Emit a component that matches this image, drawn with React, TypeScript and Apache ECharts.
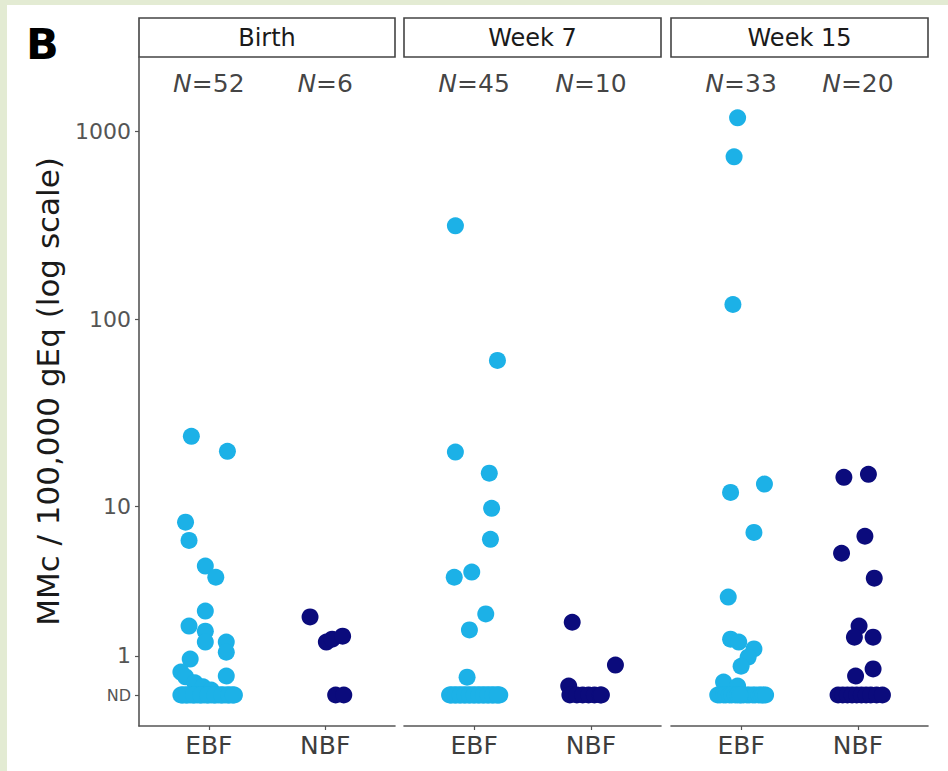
import React, { useEffect, useRef } from 'react';
import * as echarts from 'echarts';

const panelTitles = ['Birth', 'Week 7', 'Week 15'];
const groupLabels = ['EBF', 'NBF'];
const nEBF = [52, 45, 33];
const nNBF = [6, 10, 20];
const yTickValues = [0, 1, 10, 100, 1000];
const yTickLabels = ['ND', '1', '10', '100', '1000'];

// [horizontal jitter (category units), value]; value 0 = ND (not detected)
const birthEBF = [
  [-0.15, 23.8], [0.16, 19.8], [-0.2, 8.2], [-0.17, 6.5], [-0.03, 4.65], [0.06, 4.0],
  [-0.03, 2.44], [-0.17, 1.9], [-0.03, 1.73], [-0.03, 1.39], [0.15, 1.39], [0.15, 1.1],
  [-0.16, 0.91], [-0.24, 0.57], [0.15, 0.47], [-0.2, 0.45], [-0.12, 0.3], [-0.05, 0.2], [0.02, 0.12],
  [-0.24, 0], [-0.22, 0], [-0.2, 0], [-0.18, 0], [-0.16, 0], [-0.14, 0], [-0.12, 0], [-0.1, 0],
  [-0.08, 0], [-0.06, 0], [-0.04, 0], [-0.02, 0], [0, 0], [0.02, 0], [0.04, 0], [0.06, 0],
  [0.08, 0], [0.1, 0], [0.12, 0], [0.14, 0], [0.16, 0], [0.18, 0], [0.2, 0], [0.22, 0],
  [-0.23, 0], [-0.19, 0], [-0.13, 0], [-0.07, 0], [-0.01, 0], [0.05, 0], [0.11, 0], [0.17, 0], [0.21, 0],
];
const birthNBF = [
  [-0.13, 2.22], [0.01, 1.39], [0.06, 1.48], [0.15, 1.57], [0.09, 0], [0.16, 0],
];
const week7EBF = [
  [-0.16, 315], [0.2, 60.4], [-0.16, 19.6], [0.13, 15.1], [0.15, 9.76], [0.14, 6.6],
  [-0.17, 4.0], [-0.02, 4.29], [0.1, 2.33], [-0.04, 1.77], [-0.06, 0.44],
  [-0.21, 0], [-0.19, 0], [-0.17, 0], [-0.15, 0], [-0.13, 0], [-0.11, 0], [-0.09, 0], [-0.07, 0],
  [-0.05, 0], [-0.03, 0], [-0.01, 0], [0.01, 0], [0.03, 0], [0.05, 0], [0.07, 0], [0.09, 0],
  [0.11, 0], [0.13, 0], [0.15, 0], [0.17, 0], [0.19, 0], [0.21, 0], [0.22, 0],
  [-0.2, 0], [-0.16, 0], [-0.12, 0], [-0.08, 0], [-0.04, 0], [0, 0], [0.04, 0], [0.08, 0],
  [0.12, 0], [0.16, 0], [0.2, 0],
];
const week7NBF = [
  [-0.16, 2.03], [0.21, 0.75], [-0.19, 0.22],
  [-0.18, 0], [-0.12, 0], [-0.07, 0], [-0.02, 0], [0.03, 0], [0.08, 0], [0.09, 0],
];
const week15EBF = [
  [-0.03, 1183], [-0.06, 734], [-0.07, 120], [-0.09, 11.9], [0.2, 13.2], [0.11, 7.2],
  [-0.11, 3.02], [-0.09, 1.48], [-0.02, 1.39], [0.11, 1.19], [0.06, 0.96], [0.0, 0.72],
  [-0.15, 0.32], [-0.03, 0.22],
  [-0.2, 0], [-0.18, 0], [-0.15, 0], [-0.13, 0], [-0.1, 0], [-0.08, 0], [-0.05, 0], [-0.03, 0],
  [0, 0], [0.02, 0], [0.05, 0], [0.07, 0], [0.1, 0], [0.12, 0], [0.15, 0], [0.17, 0],
  [0.19, 0], [0.21, 0], [-0.01, 0],
];
const week15NBF = [
  [-0.12, 14.35], [0.09, 14.9], [0.06, 6.86], [-0.14, 5.51], [0.14, 3.95], [0.01, 1.9],
  [-0.03, 1.54], [0.13, 1.54], [0.13, 0.65], [-0.02, 0.47],
  [-0.17, 0], [-0.13, 0], [-0.09, 0], [-0.05, 0], [-0.01, 0], [0.03, 0], [0.07, 0],
  [0.11, 0], [0.16, 0], [0.21, 0],
];

const groupData = [
  [birthEBF, birthNBF],
  [week7EBF, week7NBF],
  [week15EBF, week15NBF],
];

const COLORS = ['#1cb1e7', '#0b0b7c'];
const FONT = 'DejaVu Sans';
const W = 948;
const H = 771;

// pseudo-log (asinh, sigma = 1) transform, base 10
const tr = (v: number) => Math.asinh(v / 2) / Math.LN10;

const Y_MIN = -0.165;
const Y_MAX = 3.397;
const N_LABEL_T = 3.255;

const PANEL_LEFT = [139, 404, 671];
const PANEL_WIDTH = [256, 257, 257];
const PLOT_TOP = 57;
const PLOT_BOTTOM = 726;
const STRIP_TOP = 18;

export default function App() {
  const ref = useRef<HTMLDivElement>(null);

  useEffect(() => {
    if (!ref.current) return;
    const chart = echarts.init(ref.current, null, { renderer: 'svg', width: W, height: H });

    const tickT = yTickValues.map(tr);

    const grids = PANEL_LEFT.map((l, i) => ({
      left: l,
      top: PLOT_TOP,
      width: PANEL_WIDTH[i],
      height: PLOT_BOTTOM - PLOT_TOP,
      containLabel: false,
    }));

    const xAxes = PANEL_LEFT.map((_, i) => ({
      gridIndex: i,
      type: 'value',
      min: 0.4,
      max: 2.6,
      axisLine: { show: true, onZero: false, lineStyle: { color: '#555555', width: 1.6 } },
      axisTick: { show: true, customValues: [1, 2], length: 4, lineStyle: { color: '#555555', width: 1.2 } },
      axisLabel: {
        show: true,
        customValues: [1, 2],
        formatter: (v: number) => groupLabels[Math.round(v) - 1] ?? '',
        color: '#3d3d3d',
        fontSize: 25,
        fontFamily: FONT,
        margin: 7,
      },
      splitLine: { show: false },
    }));

    const yAxes = PANEL_LEFT.map((_, i) => ({
      gridIndex: i,
      type: 'value',
      min: Y_MIN,
      max: Y_MAX,
      show: i === 0,
      axisLine: { show: i === 0, onZero: false, lineStyle: { color: '#555555', width: 1.6 } },
      axisTick: { show: i === 0, customValues: tickT, length: 4, lineStyle: { color: '#555555', width: 1.2 } },
      axisLabel: {
        show: i === 0,
        customValues: tickT,
        formatter: (val: number) => {
          const idx = tickT.findIndex((t) => Math.abs(t - val) < 1e-6);
          if (idx < 0) return '';
          return idx === 0 ? '{nd|' + yTickLabels[0] + '}' : yTickLabels[idx];
        },
        color: '#555555',
        fontSize: 22,
        fontFamily: FONT,
        margin: 8,
        rich: { nd: { fontSize: 16, fontFamily: FONT, color: '#555555' } },
      },
      splitLine: { show: false },
      name: i === 0 ? 'MMc / 100,000 gEq (log scale)' : '',
      nameLocation: 'middle',
      nameRotate: 90,
      nameGap: 76,
      nameTextStyle: { fontSize: 31, fontFamily: FONT, color: '#1a1a1a' },
    }));

    const series: any[] = [];
    groupData.forEach((groups, p) => {
      groups.forEach((arr, g) => {
        series.push({
          type: 'scatter',
          xAxisIndex: p,
          yAxisIndex: p,
          symbol: 'circle',
          symbolSize: 17,
          itemStyle: { color: COLORS[g], opacity: 1 },
          data: arr.map(([j, v]) => [g + 1 + j, tr(v)]),
          silent: true,
          z: 3,
        });
      });
      const counts = [nEBF[p], nNBF[p]];
      series.push({
        type: 'scatter',
        xAxisIndex: p,
        yAxisIndex: p,
        symbolSize: 0,
        silent: true,
        data: counts.map((n, g) => ({ value: [g + 1, N_LABEL_T], n })),
        label: {
          show: true,
          position: 'inside',
          formatter: (params: any) => '{i|N}{r|=' + params.data.n + '}',
          rich: {
            i: { fontStyle: 'italic', fontSize: 25, fontFamily: FONT, color: '#111111' },
            r: { fontSize: 25, fontFamily: FONT, color: '#111111' },
          },
        },
        z: 4,
      });
    });

    const graphics: any[] = [
      {
        type: 'text',
        left: 26,
        top: 22,
        style: { text: 'B', fontSize: 43, fontWeight: 'bold', fontFamily: FONT, fill: '#000000' },
      },
    ];
    PANEL_LEFT.forEach((l, i) => {
      graphics.push({
        type: 'rect',
        shape: { x: l, y: STRIP_TOP, width: PANEL_WIDTH[i], height: PLOT_TOP - STRIP_TOP },
        style: { fill: '#ffffff', stroke: '#444444', lineWidth: 1.6 },
      });
      graphics.push({
        type: 'text',
        x: l + PANEL_WIDTH[i] / 2,
        y: (STRIP_TOP + PLOT_TOP) / 2,
        style: {
          text: panelTitles[i],
          fontSize: 24,
          fontFamily: FONT,
          fill: '#1a1a1a',
          align: 'center',
          verticalAlign: 'middle',
        },
      });
    });

    chart.setOption({
      animation: false,
      backgroundColor: 'transparent',
      grid: grids,
      xAxis: xAxes,
      yAxis: yAxes,
      series,
      graphic: { elements: graphics },
    });

    return () => chart.dispose();
  }, []);

  return (
    <div style={{ position: 'fixed', left: 0, top: 0, width: W, height: H, background: '#e3ebd3' }}>
      <div style={{ position: 'absolute', left: 7, top: 5, right: 0, bottom: 0, background: '#ffffff' }} />
      <div ref={ref} style={{ position: 'absolute', left: 0, top: 0, width: W, height: H }} />
    </div>
  );
}
